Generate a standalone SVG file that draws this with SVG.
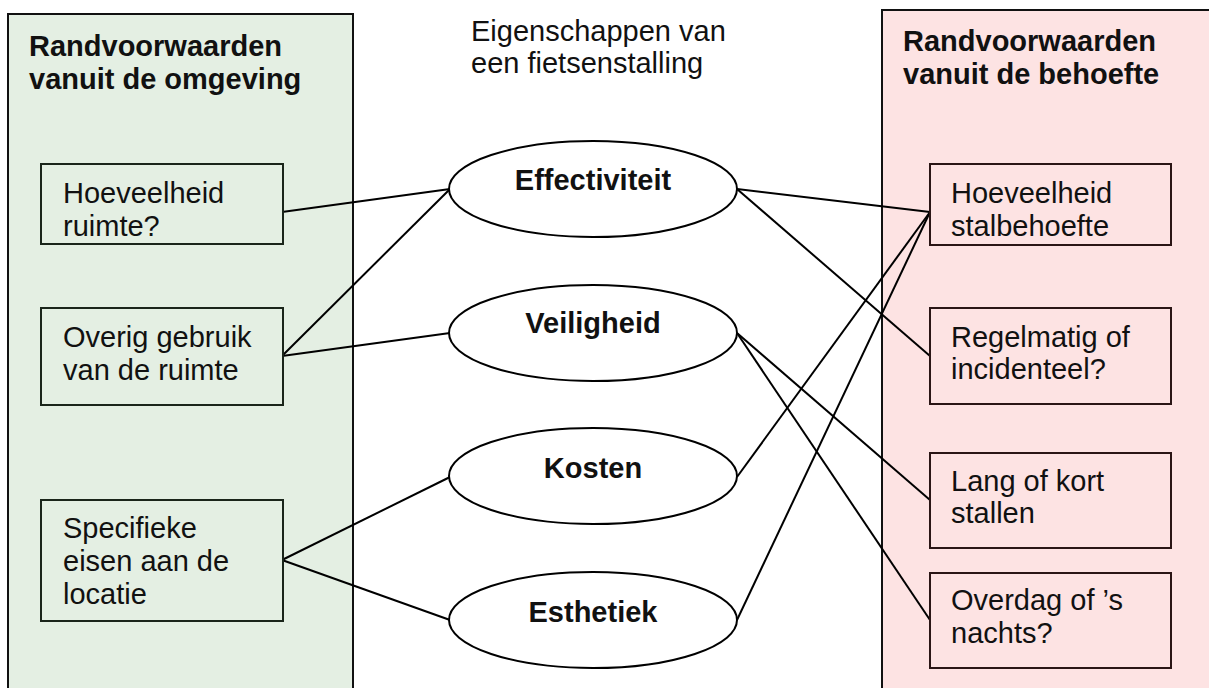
<svg xmlns="http://www.w3.org/2000/svg" width="1209" height="688" viewBox="0 0 1209 688">
<style>
text{font-family:"Liberation Sans",Arial,sans-serif;font-size:29px;fill:#111}
.b{font-weight:bold}
.panelL{fill:#e4efe3;stroke:#111;stroke-width:2}
.panelR{fill:#fde3e3;stroke:#111;stroke-width:2}
.boxL{fill:#e4efe3;stroke:#1a251a;stroke-width:2}
.boxR{fill:#fde3e3;stroke:#2a1515;stroke-width:2}
.ell{fill:#fff;stroke:#000;stroke-width:2}
.c line{stroke:#000;stroke-width:2}
.mid{text-anchor:middle}
</style>
<rect width="1209" height="688" fill="#fff"/>
<g id="panel-omgeving">
<rect class="panelL" x="8" y="14" width="345" height="690"/>
<text class="b" x="29" y="56">Randvoorwaarden</text>
<text class="b" x="29" y="89">vanuit de omgeving</text>
</g>
<g id="panel-behoefte">
<rect class="panelR" x="882" y="10" width="340" height="700"/>
<text class="b" x="903" y="51">Randvoorwaarden</text>
<text class="b" x="903" y="84">vanuit de behoefte</text>
</g>
<g id="title">
<text x="471" y="41">Eigenschappen van</text>
<text x="471" y="73">een fietsenstalling</text>
</g>
<g class="c" id="connectors">
<line x1="282" y1="212" x2="450" y2="189"/>
<line x1="282" y1="356" x2="450" y2="189"/>
<line x1="282" y1="356" x2="450" y2="333"/>
<line x1="282" y1="560" x2="450" y2="477"/>
<line x1="282" y1="560" x2="450" y2="620"/>
<line x1="737" y1="189" x2="930" y2="212"/>
<line x1="737" y1="189" x2="930" y2="356"/>
<line x1="737" y1="333" x2="930" y2="500"/>
<line x1="737" y1="333" x2="930" y2="620"/>
<line x1="737" y1="477" x2="930" y2="212"/>
<line x1="737" y1="620" x2="930" y2="212"/>
</g>
<g id="hoeveelheid-ruimte">
<rect class="boxL" x="41" y="164" width="242" height="80"/>
<text x="63" y="203">Hoeveelheid</text>
<text x="63" y="236">ruimte?</text>
</g>
<g id="overig-gebruik">
<rect class="boxL" x="41" y="308" width="242" height="97"/>
<text x="63" y="347">Overig gebruik</text>
<text x="63" y="380">van de ruimte</text>
</g>
<g id="specifieke-eisen">
<rect class="boxL" x="41" y="500" width="242" height="121"/>
<text x="63" y="538">Specifieke</text>
<text x="63" y="571">eisen aan de</text>
<text x="63" y="604">locatie</text>
</g>
<g id="effectiviteit">
<ellipse class="ell" cx="593" cy="189" rx="144" ry="48"/>
<text class="b mid" x="593" y="190">Effectiviteit</text>
</g>
<g id="veiligheid">
<ellipse class="ell" cx="593" cy="333" rx="144" ry="48"/>
<text class="b mid" x="593" y="333">Veiligheid</text>
</g>
<g id="kosten">
<ellipse class="ell" cx="593" cy="476" rx="144" ry="48"/>
<text class="b mid" x="593" y="478">Kosten</text>
</g>
<g id="esthetiek">
<ellipse class="ell" cx="593" cy="620" rx="144" ry="48"/>
<text class="b mid" x="593" y="622">Esthetiek</text>
</g>
<g id="hoeveelheid-stalbehoefte">
<rect class="boxR" x="930" y="164" width="241" height="81"/>
<text x="951" y="203">Hoeveelheid</text>
<text x="951" y="236">stalbehoefte</text>
</g>
<g id="regelmatig">
<rect class="boxR" x="930" y="308" width="241" height="96"/>
<text x="951" y="347">Regelmatig of</text>
<text x="951" y="379">incidenteel?</text>
</g>
<g id="lang-kort">
<rect class="boxR" x="930" y="453" width="241" height="95"/>
<text x="951" y="491">Lang of kort</text>
<text x="951" y="523">stallen</text>
</g>
<g id="overdag">
<rect class="boxR" x="930" y="573" width="241" height="95"/>
<text x="951" y="610">Overdag of ’s</text>
<text x="951" y="643">nachts?</text>
</g>
</svg>
